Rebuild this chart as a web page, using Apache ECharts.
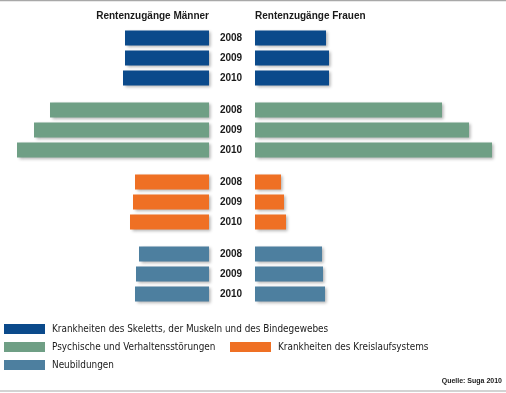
<!DOCTYPE html>
<html>
<head>
<meta charset="utf-8">
<script src="https://cdn.jsdelivr.net/npm/echarts@6/dist/echarts.min.js"></script>
<style>
html,body{margin:0;padding:0;background:#fff;}
#chart{width:506px;height:393px;}
</style>
</head>
<body>
<div id="chart"></div>
<script>
// ---- data (relative bar lengths) ----
const years = ['2008', '2009', '2010'];
const categories = [
  'Krankheiten des Skeletts, der Muskeln und des Bindegewebes',
  'Psychische und Verhaltensstörungen',
  'Krankheiten des Kreislaufsystems',
  'Neubildungen'
];
const menSkelett = [84, 84, 86];
const menPsyche = [159, 175, 192];
const menKreislauf = [74, 76, 79];
const menNeubildungen = [70, 73, 74];
const womenSkelett = [71, 74, 74];
const womenPsyche = [187, 214, 237];
const womenKreislauf = [26, 29, 31];
const womenNeubildungen = [67, 68, 70];
const titleMen = 'Rentenzugänge Männer';
const titleWomen = 'Rentenzugänge Frauen';
const sourceText = 'Quelle: Suga 2010';

const colors = ['#0b4a8b', '#6f9f85', '#ef7024', '#4d7f9f'];
const menData = [menSkelett, menPsyche, menKreislauf, menNeubildungen];
const womenData = [womenSkelett, womenPsyche, womenKreislauf, womenNeubildungen];

const FONT_COND = '"DejaVu Sans Condensed", "Liberation Sans", sans-serif';
const FONT_BOLD = '"Liberation Sans", Arial, sans-serif';
const groupTops = [28, 100, 172, 244];

const grid = [], xAxis = [], yAxis = [], series = [];
groupTops.forEach(function (top, g) {
  grid.push({ left: 9, width: 200, top: top, height: 60 });   // men
  grid.push({ left: 255, width: 240, top: top, height: 60 }); // women
});
groupTops.forEach(function (top, g) {
  const mi = g * 2, wi = g * 2 + 1;
  xAxis.push({ gridIndex: mi, type: 'value', min: 0, max: 200, inverse: true, show: false });
  xAxis.push({ gridIndex: wi, type: 'value', min: 0, max: 240, show: false });
  yAxis.push({
    gridIndex: mi, type: 'category', data: years, inverse: true, position: 'right',
    axisLine: { show: false }, axisTick: { show: false }, splitLine: { show: false },
    axisLabel: { show: true, align: 'center', margin: 22, color: '#1a1a1a',
      fontFamily: FONT_BOLD, fontWeight: 'bold', fontSize: 10 }
  });
  yAxis.push({ gridIndex: wi, type: 'category', data: years, inverse: true, show: false });
  const common = {
    type: 'bar', barWidth: 15, silent: true,
    itemStyle: { color: colors[g], shadowColor: 'rgba(0,0,0,0.3)', shadowBlur: 3, shadowOffsetX: 1.5, shadowOffsetY: 1.5 }
  };
  series.push(Object.assign({}, common, { name: categories[g], xAxisIndex: mi, yAxisIndex: mi, data: menData[g] }));
  series.push(Object.assign({}, common, { name: categories[g], xAxisIndex: wi, yAxisIndex: wi, data: womenData[g] }));
});

function legendAt(name, left, top) {
  return {
    data: [name], left: left, top: top, padding: 0, itemWidth: 41, itemHeight: 10,
    icon: 'rect', selectedMode: false, itemStyle: { shadowBlur: 0 },
    textStyle: { fontFamily: FONT_COND, fontSize: 9.9, color: '#1a1a1a', lineHeight: 14, padding: [0, 0, 0, 2] }
  };
}

const option = {
  animation: false,
  backgroundColor: '#ffffff',
  title: [
    { text: titleMen, right: 297, top: 11, padding: 0,
      textStyle: { fontFamily: FONT_BOLD, fontWeight: 'bold', fontSize: 10, color: '#1a1a1a' } },
    { text: titleWomen, left: 255, top: 11, padding: 0,
      textStyle: { fontFamily: FONT_BOLD, fontWeight: 'bold', fontSize: 10, color: '#1a1a1a' } },
    { text: sourceText, right: 4, top: 377.5, padding: 0,
      textStyle: { fontFamily: FONT_BOLD, fontWeight: 'bold', fontSize: 7, color: '#1a1a1a' } }
  ],
  legend: [
    legendAt(categories[0], 4, 322),
    legendAt(categories[1], 4, 340),
    legendAt(categories[2], 230, 340),
    legendAt(categories[3], 4, 358)
  ],
  graphic: [
    { type: 'line', shape: { x1: 0, y1: 0.5, x2: 506, y2: 0.5 }, style: { stroke: '#a8a8a8', lineWidth: 1.5 }, silent: true },
    { type: 'line', shape: { x1: 0, y1: 391, x2: 506, y2: 391 }, style: { stroke: '#a8a8a8', lineWidth: 1.2 }, silent: true }
  ],
  grid: grid,
  xAxis: xAxis,
  yAxis: yAxis,
  series: series
};

const chart = echarts.init(document.getElementById('chart'), null, { renderer: 'canvas' });
chart.setOption(option);
</script>
</body>
</html>
